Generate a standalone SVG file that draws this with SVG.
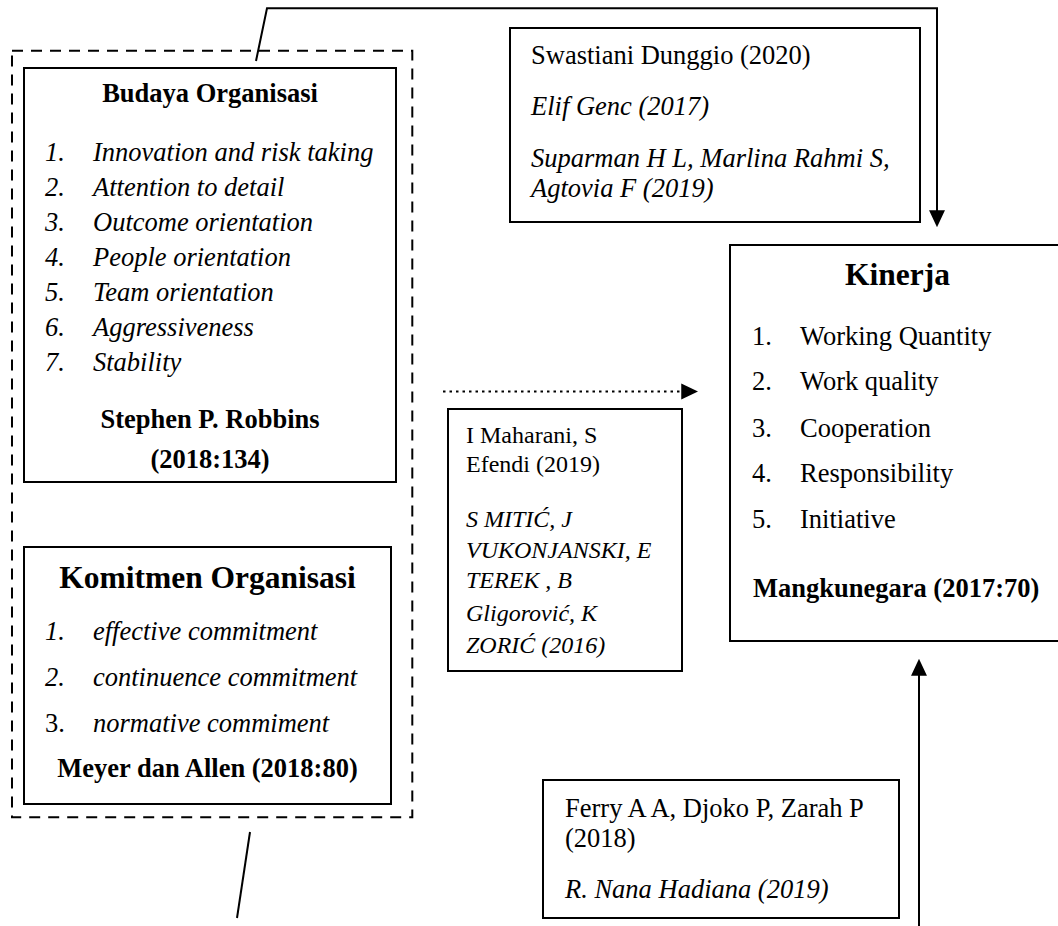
<svg xmlns="http://www.w3.org/2000/svg" width="1058" height="926" viewBox="0 0 1058 926">
<style>
text { font-family: "Liberation Serif", "Times New Roman", serif; fill: #000; font-size: 26.5px; }
.b { font-weight: bold; }
.i { font-style: italic; }
.t { font-size: 31.5px; font-weight: bold; }
.s { font-size: 24px; }
.m { text-anchor: middle; }
.box { fill: #fff; stroke: #000; stroke-width: 2; }
.dash { fill: none; stroke: #000; stroke-width: 2; stroke-dasharray: 11 8; }
.conn { fill: none; stroke: #000; stroke-width: 2; }
.dot { stroke-dasharray: 2.5 4; }
</style>
<defs>
<marker id="ah" markerUnits="userSpaceOnUse" markerWidth="17" markerHeight="17" viewBox="0 0 16 16" refX="12" refY="8" orient="auto">
<path d="M0,0.5 L16,8 L0,15.5 Z" fill="#000"/>
</marker>
</defs>
<rect width="1058" height="926" fill="#fff"/>

<g id="group-x">
<rect class="dash" x="12" y="50.7" width="400.3" height="766.6"/>
</g>

<g id="budaya">
<rect class="box" x="24" y="68" width="372" height="414"/>
<text class="b m" x="210" y="101.5">Budaya Organisasi</text>
<g class="i">
<text x="45" y="160.5">1.</text><text x="93" y="160.5">Innovation and risk taking</text>
<text x="45" y="195.5">2.</text><text x="93" y="195.5">Attention to detail</text>
<text x="45" y="230.5">3.</text><text x="93" y="230.5">Outcome orientation</text>
<text x="45" y="265.5">4.</text><text x="93" y="265.5">People orientation</text>
<text x="45" y="300.5">5.</text><text x="93" y="300.5">Team orientation</text>
<text x="45" y="335.5">6.</text><text x="93" y="335.5">Aggressiveness</text>
<text x="45" y="370.5">7.</text><text x="93" y="370.5">Stability</text>
</g>
<text class="b m" x="210" y="428">Stephen P. Robbins</text>
<text class="b m" x="210" y="468">(2018:134)</text>
</g>

<g id="komitmen">
<rect class="box" x="24" y="547" width="367" height="257"/>
<text class="t m" x="207.5" y="588">Komitmen Organisasi</text>
<text class="i" x="45" y="640">1.</text><text class="i" x="93" y="640">effective commitment</text>
<text class="i" x="45" y="686">2.</text><text class="i" x="93" y="686">continuence commitment</text>
<text x="45" y="731.5">3.</text><text class="i" x="93" y="731.5">normative commiment</text>
<text class="b m" x="207.5" y="776.5">Meyer dan Allen (2018:80)</text>
</g>

<g id="ref-top">
<rect class="box" x="510" y="28" width="410" height="194"/>
<text x="531" y="63.5">Swastiani Dunggio (2020)</text>
<text class="i" x="531" y="115">Elif Genc (2017)</text>
<text class="i" x="531" y="166.5">Suparman H L, Marlina Rahmi S,</text>
<text class="i" x="531" y="196.5">Agtovia F (2019)</text>
</g>

<g id="kinerja">
<rect class="box" x="730" y="245" width="340" height="396"/>
<text class="t m" x="897.5" y="285">Kinerja</text>
<text x="752" y="345">1.</text><text x="800" y="345">Working Quantity</text>
<text x="752" y="390">2.</text><text x="800" y="390">Work quality</text>
<text x="752" y="436.5">3.</text><text x="800" y="436.5">Cooperation</text>
<text x="752" y="482">4.</text><text x="800" y="482">Responsibility</text>
<text x="752" y="528">5.</text><text x="800" y="528">Initiative</text>
<text class="b" x="753" y="596.5">Mangkunegara (2017:70)</text>
</g>

<g id="ref-mid">
<rect class="box" x="448" y="409" width="234" height="262"/>
<text class="s" x="466" y="442.5">I Maharani, S</text>
<text class="s" x="466" y="472">Efendi (2019)</text>
<text class="s i" x="466" y="526.5">S MITIĆ, J</text>
<text class="s i" x="466" y="558">VUKONJANSKI, E</text>
<text class="s i" x="466" y="588">TEREK , B</text>
<text class="s i" x="466" y="621">Gligorović, K</text>
<text class="s i" x="466" y="653">ZORIĆ (2016)</text>
</g>

<g id="ref-bottom">
<rect class="box" x="543" y="780" width="356" height="138"/>
<text x="565" y="817">Ferry A A, Djoko P, Zarah P</text>
<text x="565" y="847">(2018)</text>
<text class="i" x="565" y="898">R. Nana Hadiana (2019)</text>
</g>

<g id="connectors">
<path class="conn" d="M256,61 L267,8.3 L937,8.3 L937,223" marker-end="url(#ah)"/>
<path class="conn dot" d="M443,391.5 L694,391.5" marker-end="url(#ah)"/>
<path class="conn" d="M919,926 L919,663" marker-end="url(#ah)"/>
<path class="conn" d="M250,832 L237,918"/>
</g>
</svg>
